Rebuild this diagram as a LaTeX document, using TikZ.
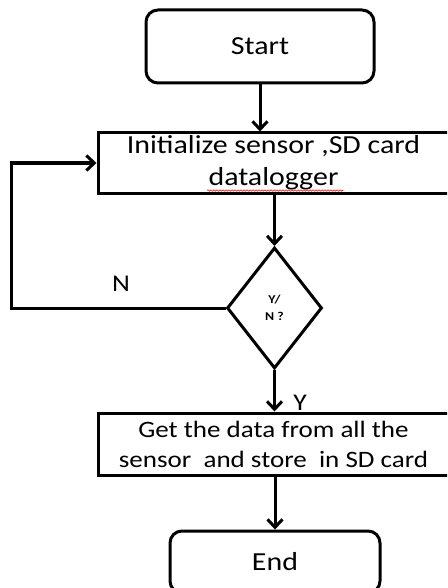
\documentclass[tikz,border=0pt]{standalone}
\usepackage{fontspec}
\setmainfont[FakeStretch=1.15]{Carlito}
\usetikzlibrary{arrows.meta,shapes.geometric,decorations.pathmorphing}
\begin{document}
\begin{tikzpicture}[x=1pt,y=-1pt,
  line width=3pt,
  >={Straight Barb[length=8pt,width=15pt]},
  term/.style={draw,rounded corners=12pt,inner sep=0pt,font=\fontsize{26}{31}\selectfont},
  proc/.style={draw,inner sep=0pt,align=center},
  dec/.style={draw,diamond,inner sep=0pt,align=center,font=\fontsize{12}{17}\selectfont\bfseries},
  lbl/.style={inner sep=0pt,font=\fontsize{24}{29}\selectfont}]
\useasboundingbox (0,0) rectangle (447,588);
\clip (0,0) rectangle (447,588);
\node[term,minimum width=228pt,minimum height=73pt] (start) at (260,46.5) {Start};
\node[proc,minimum width=351pt,minimum height=60pt,font=\fontsize{26}{32}\selectfont] (init) at (273.5,163) {Initialize sensor ,SD card\\datalogger};
\node[dec,minimum width=95pt,minimum height=121pt] (dec) at (274.5,308) {Y/\\N ?};
\node[proc,minimum width=351pt,minimum height=62pt,font=\fontsize{23.5}{30}\selectfont] (get) at (273.5,444) {Get the data from all the\\sensor \ and store \ in SD card};
\node[term,minimum width=210pt,minimum height=62pt] (end) at (275,562) {End};
\node[lbl] (n) at (121,284) {N};
\node[lbl] (y) at (300,403) {Y};
\coordinate (sq1) at (207,190.5);
\coordinate (sq2) at (343,190.5);
\draw[red,line width=0.6pt,decorate,decoration={snake,segment length=3pt,amplitude=0.7pt}] (sq1) -- (sq2);
\draw[->] (start.south) -- (start.south |- init.north);
\draw[->] (init.south -| dec.north) -- (dec.north);
\draw[->] (dec.west) -- ++(-214,0) |- (init.west);
\draw[->] (dec.south) -- (dec.south |- get.north);
\draw[->] (get.south -| end.north) -- (end.north);
\end{tikzpicture}
\end{document}
